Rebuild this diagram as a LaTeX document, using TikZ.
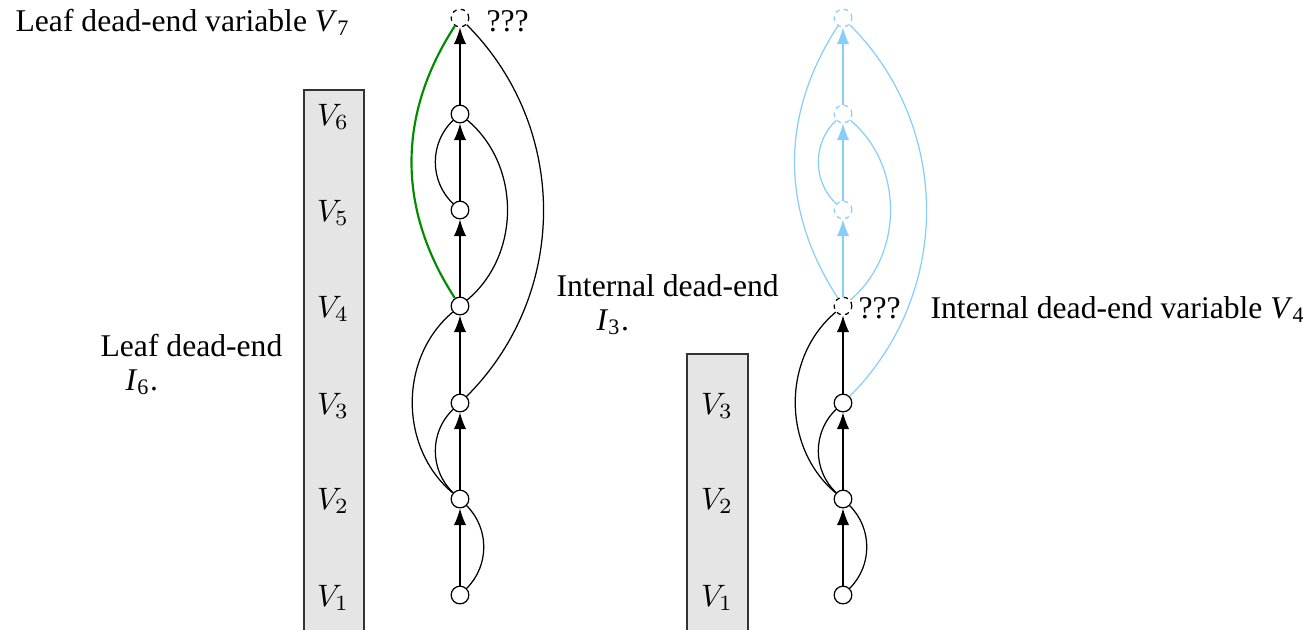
\documentclass[tikz,border=0pt]{standalone}
\usepackage[no-math]{fontspec}
\setmainfont{Liberation Serif}
\usetikzlibrary{arrows.meta}
\definecolor{lblue}{RGB}{135,206,250}
\definecolor{dgreen}{RGB}{0,140,0}
\newcommand{\tv}[2]{\textit{#1}\textsubscript{#2}}
\begin{document}
\begin{tikzpicture}[x=0.3226pt,y=0.3226pt,
  vx/.style={circle,draw,fill=white,minimum size=5.7pt,inner sep=0pt},
  dvx/.style={vx,dash pattern=on 1.4pt off 1.4pt},
  bvx/.style={dvx,draw=lblue},
  arr/.style={-{Latex[length=5.4pt,width=4pt]}},
  boxst/.style={draw=black!80,fill=black!10},
  txt/.style={anchor=base west,inner sep=0pt,font=\fontsize{10.2pt}{12pt}\selectfont}]
\clip (0,0) rectangle (1303,-629);
\useasboundingbox (0,0) rectangle (1303,-629);
% boxes
\draw[boxst] (304,-90) rectangle (364,-640);
\draw[boxst] (687,-354) rectangle (748,-640);
\node (l6) at (333,-117) {$V_6$};
\node (l5) at (333,-213) {$V_5$};
\node (l4) at (333,-309) {$V_4$};
\node (l3) at (333,-406) {$V_3$};
\node (l2) at (333,-501) {$V_2$};
\node (l1) at (333,-598) {$V_1$};
\node (r3) at (717,-406) {$V_3$};
\node (r2) at (717,-501) {$V_2$};
\node (r1) at (717,-598) {$V_1$};
% left graph
\node[vx] (a1) at (460,-595) {};
\node[vx] (a2) at (460,-499) {};
\node[vx] (a3) at (460,-403) {};
\node[vx] (a4) at (460,-306) {};
\node[vx] (a5) at (460,-210) {};
\node[vx] (a6) at (460,-114) {};
\node[dvx] (a7) at (460,-18) {};
\draw[arr] (a1) -- (a2);
\draw[arr] (a2) -- (a3);
\draw[arr] (a3) -- (a4);
\draw[arr] (a4) -- (a5);
\draw[arr] (a5) -- (a6);
\draw[arr] (a6) -- (a7);
\draw (a1) to[bend right=45] (a2);
\draw (a2) to[bend left=47] (a3);
\draw (a2) to[bend left=50] (a4);
\draw (a3) to[bend right=45] (a7);
\draw (a4) to[bend right=50] (a6);
\draw (a5) to[bend left=47] (a6);
\draw[dgreen,line width=0.7pt] (a4) to[bend left=33] (a7);
% right graph
\node[vx] (b1) at (843,-595) {};
\node[vx] (b2) at (843,-499) {};
\node[vx] (b3) at (843,-403) {};
\node[dvx] (b4) at (843,-306) {};
\node[bvx] (b5) at (843,-210) {};
\node[bvx] (b6) at (843,-114) {};
\node[bvx] (b7) at (843,-18) {};
\draw[arr] (b1) -- (b2);
\draw[arr] (b2) -- (b3);
\draw[arr] (b3) -- (b4);
\draw[arr,lblue] (b4) -- (b5);
\draw[arr,lblue] (b5) -- (b6);
\draw[arr,lblue] (b6) -- (b7);
\draw (b1) to[bend right=45] (b2);
\draw (b2) to[bend left=47] (b3);
\draw (b2) to[bend left=50] (b4);
\draw[lblue] (b3) to[bend right=45] (b7);
\draw[lblue] (b4) to[bend right=50] (b6);
\draw[lblue] (b5) to[bend left=47] (b6);
\draw[lblue] (b4) to[bend left=33] (b7);
% texts
\node[txt] (t1) at (15,-31) {Leaf dead-end variable \tv{V}{7}};
\node[txt] (q1) at (486,-31) {???};
\node[txt] (t2) at (100,-356) {Leaf dead-end};
\node[txt] (t3) at (125,-390) {\tv{I}{6}.};
\node[txt] (t4) at (556,-296) {Internal dead-end};
\node[txt] (t5) at (596,-330) {\tv{I}{3}.};
\node[txt] (q2) at (858,-318) {???};
\node[txt] (t6) at (930,-318) {Internal dead-end variable \tv{V}{4}};
\end{tikzpicture}
\end{document}
